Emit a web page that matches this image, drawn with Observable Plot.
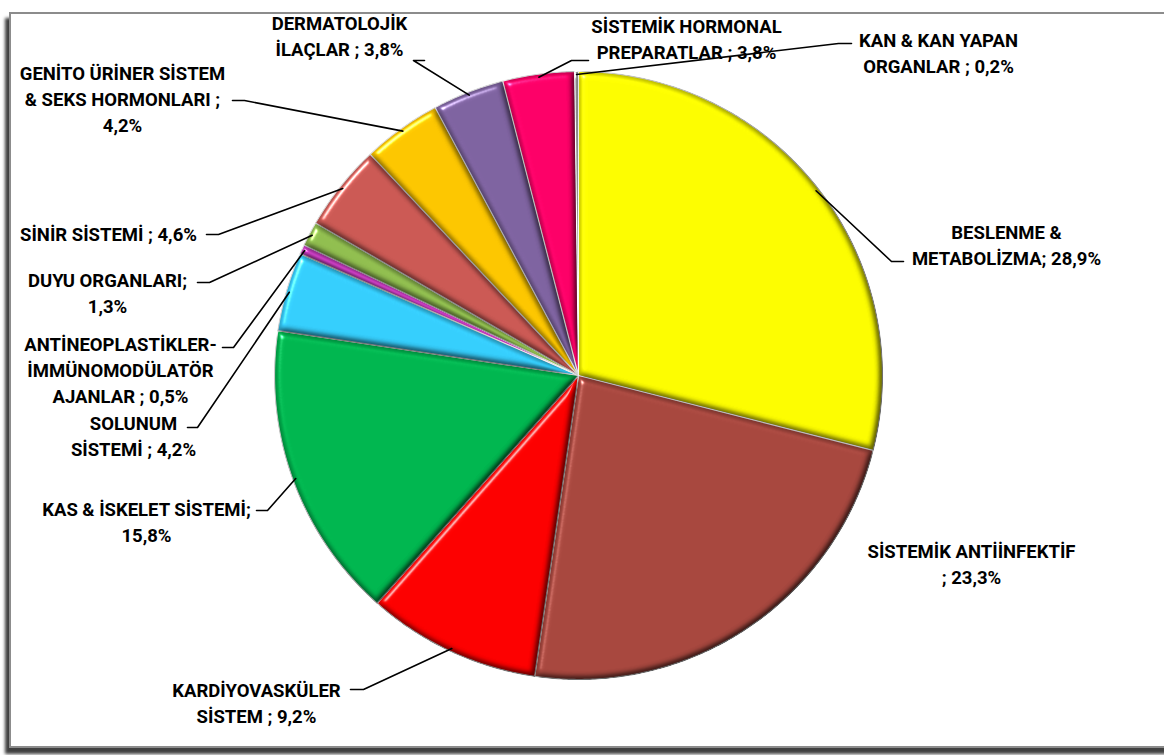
<!DOCTYPE html>
<html><head><meta charset="utf-8">
<script src="https://cdn.jsdelivr.net/npm/d3@7"></script>
<script src="https://cdn.jsdelivr.net/npm/@observablehq/plot@0.6"></script>
<style>
html,body{margin:0;padding:0;background:#fff;overflow:hidden;}
#frame{position:absolute;left:9px;top:12px;width:1170px;height:732px;border:2px solid #8c8c8c;box-shadow:-4px 6px 3px rgba(0,0,0,0.75);background:#fff;}
#chart{position:absolute;left:0;top:0;}
</style></head><body>
<div id="frame"></div>
<div id="chart"></div>
<script>
// ---- data (clockwise from 12 o'clock) ----
const categories = ["BESLENME & METABOLİZMA","SİSTEMİK ANTİİNFEKTİF","KARDİYOVASKÜLER SİSTEM","KAS & İSKELET SİSTEMİ","SOLUNUM SİSTEMİ","ANTİNEOPLASTİKLER-İMMÜNOMODÜLATÖR AJANLAR","DUYU ORGANLARI","SİNİR SİSTEMİ","GENİTO ÜRİNER SİSTEM & SEKS HORMONLARI","DERMATOLOJİK İLAÇLAR","SİSTEMİK HORMONAL PREPARATLAR","KAN & KAN YAPAN ORGANLAR"];
const values = [28.9, 23.3, 9.2, 15.8, 4.2, 0.5, 1.3, 4.6, 4.2, 3.8, 3.8, 0.2];
const colors = ["#FFFF00","#A9483F","#FF0000","#00B850","#36D0FF","#C83CC0","#92C050","#CD5A55","#FFC800","#8064A2","#FF0068","#8A8A8A"];
const labelTexts = [
  "BESLENME &\nMETABOLİZMA; 28,9%",
  "SİSTEMİK ANTİİNFEKTİF\n; 23,3%",
  "KARDİYOVASKÜLER\nSİSTEM ; 9,2%",
  "KAS & İSKELET SİSTEMİ;\n15,8%",
  "SOLUNUM\nSİSTEMİ ; 4,2%",
  "ANTİNEOPLASTİKLER-\nİMMÜNOMODÜLATÖR\nAJANLAR ; 0,5%",
  "DUYU ORGANLARI;\n1,3%",
  "SİNİR SİSTEMİ ; 4,6%",
  "GENİTO ÜRİNER SİSTEM\n& SEKS HORMONLARI ;\n4,2%",
  "DERMATOLOJİK\nİLAÇLAR ; 3,8%",
  "SİSTEMİK HORMONAL\nPREPARATLAR ; 3,8%",
  "KAN & KAN YAPAN\nORGANLAR ; 0,2%"
];

// ---- layout (pixels) ----
const W = 1164, H = 755, CX = 578, CY = 375, R = 304;
// label block centre
const labelPos = [[1006,243],[971,562],[256,701],[146,520],[133,434],[120,368],[107,291],[108,232],[122,97],[339,34],[686,37],[938,51]];
// leader elbow and dash end (null = no leader)
const leaderPos = [[891,261,903],null,[363,689,350],[267,510,256],[197,427,187],[233,347,222],[209,282,197],[218,234,206],[244,100,232],[413,60,424],[571,60,588],[838,43,851]];

const toU = px => (px - CX) / R;
const toV = py => (CY - py) / R;

const pie = d3.pie().sort(null).value(d => d)(values);

const slicePts = [];
pie.forEach((p, i) => {
  const a0 = p.startAngle, a1 = p.endAngle;
  const n = Math.max(2, Math.ceil((a1 - a0) / (Math.PI / 360)));
  slicePts.push({k: i, x: 0, y: 0, c: colors[i]});
  for (let j = 0; j <= n; j++) {
    const a = a0 + (a1 - a0) * j / n;
    slicePts.push({k: i, x: Math.sin(a), y: Math.cos(a), c: colors[i]});
  }
});

const leaderPts = [];
pie.forEach((p, i) => {
  const L = leaderPos[i];
  if (!L) return;
  const m = (p.startAngle + p.endAngle) / 2;
  leaderPts.push({k: i, x: Math.sin(m) * 0.99, y: Math.cos(m) * 0.99});
  leaderPts.push({k: i, x: toU(L[0]), y: toV(L[1])});
  leaderPts.push({k: i, x: toU(L[2]), y: toV(L[1])});
});

const labelData = labelTexts.map((t, i) => ({t, x: toU(labelPos[i][0]), y: toV(labelPos[i][1])}));

const chart = Plot.plot({
  width: W, height: H,
  margin: 0,
  style: {background: "transparent", overflow: "visible"},
  x: {domain: [toU(0), toU(W)], range: [0, W], axis: null},
  y: {domain: [toV(H), toV(0)], range: [H, 0], axis: null},
  color: {type: "identity"},
  marks: [
    Plot.line(slicePts, {x: "x", y: "y", z: "k", fill: "c", stroke: "#ffffff", strokeWidth: 1.2, curve: "linear-closed", strokeLinejoin: "round", className: "slice"}),
    Plot.line(leaderPts, {x: "x", y: "y", z: "k", stroke: "#000", strokeWidth: 1.6}),
    Plot.text(labelData, {x: "x", y: "y", text: "t", fontSize: 18.5, fontWeight: "bold", lineHeight: 1.42, fill: "#000", textAnchor: "middle", fontFamily: "Roboto, 'Liberation Sans', sans-serif"})
  ]
});
document.getElementById("chart").appendChild(chart);

// bevel / 3D look for slices
const svg = d3.select(chart);
const defs = svg.insert("defs", ":first-child");
const f = defs.append("filter").attr("id", "bevel").attr("x", "-5%").attr("y", "-5%").attr("width", "110%").attr("height", "110%")
  .attr("color-interpolation-filters", "sRGB");
f.append("feGaussianBlur").attr("in", "SourceAlpha").attr("stdDeviation", 3.5).attr("result", "b");
const dl = f.append("feDiffuseLighting").attr("in", "b").attr("surfaceScale", 6).attr("diffuseConstant", 1.04).attr("lighting-color", "#fff").attr("result", "d");
dl.append("feDistantLight").attr("azimuth", 225).attr("elevation", 72);
f.append("feComposite").attr("in", "SourceGraphic").attr("in2", "d").attr("operator", "arithmetic").attr("k1", 1).attr("k2", 0).attr("k3", 0).attr("k4", 0).attr("result", "lit");
const sl = f.append("feSpecularLighting").attr("in", "b").attr("surfaceScale", 6).attr("specularConstant", 0.7).attr("specularExponent", 45).attr("lighting-color", "#fff").attr("result", "s");
sl.append("feDistantLight").attr("azimuth", 225).attr("elevation", 35);
f.append("feComposite").attr("in", "s").attr("in2", "SourceAlpha").attr("operator", "in").attr("result", "s2");
f.append("feComposite").attr("in", "lit").attr("in2", "s2").attr("operator", "arithmetic").attr("k1", 0).attr("k2", 1).attr("k3", 1).attr("k4", 0).attr("result", "out");
f.append("feComposite").attr("in", "out").attr("in2", "SourceAlpha").attr("operator", "in");
svg.selectAll(".slice path").attr("filter", "url(#bevel)");
</script>
</body></html>
